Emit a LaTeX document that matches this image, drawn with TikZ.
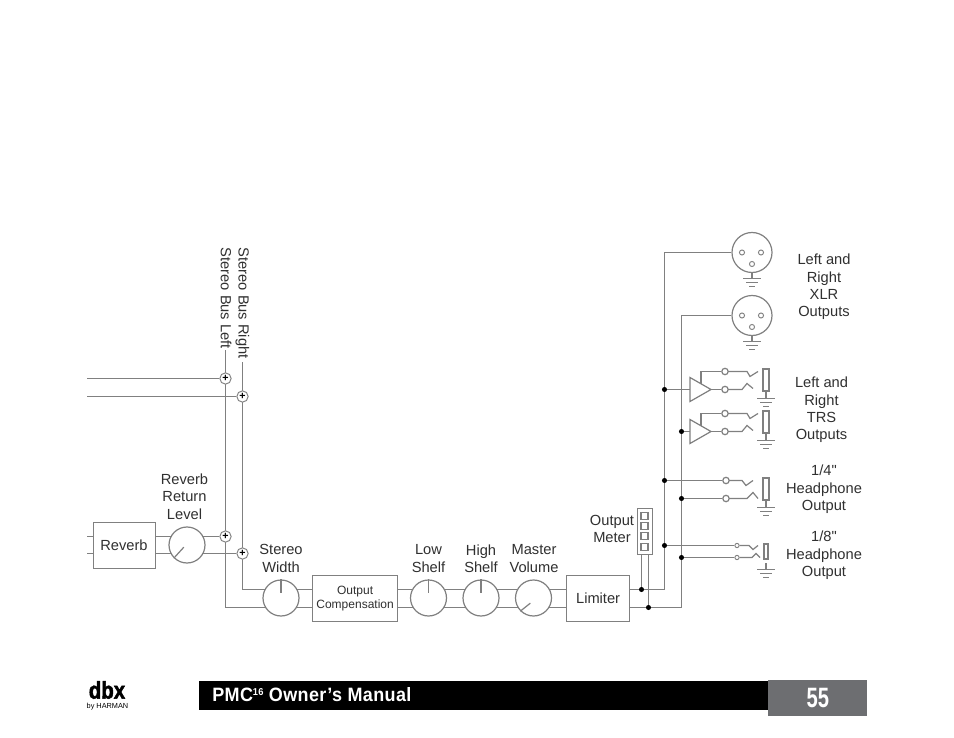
\documentclass[tikz,border=0pt]{standalone}
\usepackage{fontspec}
\usetikzlibrary{backgrounds}
\setmainfont{Liberation Sans}
\newfontfamily\barfont[FakeStretch=0.93,LetterSpace=2]{Liberation Sans Bold}
\newfontfamily\pagefont[FakeStretch=0.72]{Liberation Sans Bold}
\newfontfamily\logofont[FakeStretch=0.85,FakeBold=2]{Liberation Sans Bold}
\newfontfamily\plainfont{Liberation Sans}
\definecolor{wirecol}{HTML}{808080}
\definecolor{textcol}{HTML}{303030}
\definecolor{pagecol}{HTML}{6D6E71}
\tikzset{every picture/.style={line width=0.75pt}}
\tikzset{
  wire/.style={draw=wirecol,line width=0.9pt},
  lbl/.style={inner sep=0.75pt,align=center,text=textcol,font=\fontsize{11}{13.1}\selectfont},
  knob/.style={circle,draw=wirecol,line width=0.9pt,fill=white,minimum size=27pt,inner sep=0pt},
  boxnode/.style={rectangle,draw=wirecol,line width=0.9pt,fill=white,inner sep=0pt},
  sumnode/.style={circle,draw=wirecol,line width=0.7pt,fill=white,minimum size=8.5pt,inner sep=0pt,text=black,font=\fontsize{8}{8}\bfseries\selectfont},
  dotnode/.style={circle,fill=black,minimum size=3.8pt,inner sep=0pt},
  jacknode/.style={circle,draw=wirecol,line width=0.9pt,fill=white,minimum size=4.8pt,inner sep=0pt},
  smalljack/.style={circle,draw=wirecol,line width=0.7pt,fill=white,minimum size=3.2pt,inner sep=0pt},
  pinnode/.style={circle,draw=wirecol,line width=0.7pt,minimum size=3.8pt,inner sep=0pt},
  gnd/.pic={
    \draw [wire] (-9,0) -- (9,0) ;
    \draw [wire] (-6,4) -- (6,4) ;
    \draw [wire] (-3,8) -- (3,8) ;
  }
}

\begin{document}
\begin{tikzpicture}[x=0.75pt,y=0.75pt,yscale=-1,xscale=1]

\path [use as bounding box] (0,0) rectangle (954,738) ;

% left inputs and buses
\coordinate (inA) at (87,378.5) ;
\coordinate (inB) at (87,396.5) ;
\coordinate (busAtop) at (225.5,350) ;
\coordinate (busBtop) at (242.5,362) ;
\coordinate (revA) at (87,536.5) ;
\coordinate (revB) at (87,553.5) ;
\coordinate (levA) at (250,589.5) ;
\coordinate (levB) at (250,607.5) ;

\draw (93,522) node [boxnode,anchor=north west,minimum width=46.5pt,minimum height=34.5pt] (reverb) {} ;
\draw (124,545) node [lbl] (reverbtxt) {Reverb} ;
\draw (187,545) node [knob] (revknob) {} ;
\draw (281,598) node [knob] (stereo) {} ;
\draw (428.5,598) node [knob] (lowshelf) {} ;
\draw (481,598) node [knob] (highshelf) {} ;
\draw (533.5,598) node [knob] (master) {} ;
\draw (312,575) node [boxnode,anchor=north west,minimum width=63.75pt,minimum height=34.5pt] (comp) {} ;
\draw (566,575) node [boxnode,anchor=north west,minimum width=47.25pt,minimum height=34.5pt] (limiter) {} ;

\draw (225.5,378.5) node [sumnode] (sumA) {+} ;
\draw (242.5,396.5) node [sumnode] (sumB) {+} ;
\draw (225.5,536.5) node [sumnode] (sumC) {+} ;
\draw (242.5,553.5) node [sumnode] (sumD) {+} ;

\begin{pgfonlayer}{background}
\fill [white] (0,0) rectangle (954,738) ;
\draw [wire] (inA) -- (sumA) ;
\draw [wire] (inB) -- (sumB) ;
\draw [wire] (busAtop) -- (busAtop |- levB) -- (comp.west |- levB) ;
\draw [wire] (busBtop) -- (busBtop |- levA) -- (comp.west |- levA) ;
\draw [wire] (revA) -- (reverb.west |- revA) ;
\draw [wire] (revB) -- (reverb.west |- revB) ;
\draw [wire] (reverb.east |- revA) -- (sumC) ;
\draw [wire] (reverb.east |- revB) -- (sumD) ;
\draw [wire] (comp.east |- levA) -- (limiter.west |- levA) ;
\draw [wire] (comp.east |- levB) -- (limiter.west |- levB) ;
\end{pgfonlayer}

% knob pointers
\draw [wire] (revknob.225) -- ++(10,-11) ;
\draw [wire] (stereo.90) -- ++(0,14) ;
\draw [wire] (lowshelf.90) -- ++(0,14) ;
\draw [wire] (highshelf.90) -- ++(0,14) ;
\draw [wire] (master.225) -- ++(10,-8) ;

% output meter
\draw (637,508) node [boxnode,anchor=north west,minimum width=11.25pt,minimum height=34.5pt] (meter) {} ;
\draw (644.5,515.7) node [boxnode,minimum size=5.25pt] (ledA) {} ;
\draw (644.5,526) node [boxnode,minimum size=5.25pt] (ledB) {} ;
\draw (644.5,536.3) node [boxnode,minimum size=5.25pt] (ledC) {} ;
\draw (644.5,546.7) node [boxnode,minimum size=5.25pt] (ledD) {} ;
\draw (641.5,589.5) node [dotnode] (dotM1) {} ;
\draw (648.5,607.5) node [dotnode] (dotM2) {} ;
\draw [wire] (dotM1) -- (dotM1 |- meter.south) ;
\draw [wire] (dotM2) -- (dotM2 |- meter.south) ;

% output buses
\draw (752,252.5) node [knob,minimum size=30pt] (xlrA) {} ;
\draw (752,315.5) node [knob,minimum size=30pt] (xlrB) {} ;
\draw [wire] (limiter.east |- dotM1) -- (dotM1) -- (664.5,589.5) -- (664.5,252.5) -- (xlrA) ;
\draw [wire] (limiter.east |- dotM2) -- (dotM2) -- (681.5,607.5) -- (681.5,315.5) -- (xlrB) ;

% XLR
\draw (742,252.5) node [pinnode] (pinA1) {} ;
\draw (761,252.5) node [pinnode] (pinA2) {} ;
\draw (752,264) node [pinnode] (pinA3) {} ;
\draw (742,315.5) node [pinnode] (pinB1) {} ;
\draw (761,315.5) node [pinnode] (pinB2) {} ;
\draw (752,327) node [pinnode] (pinB3) {} ;
\draw [wire] (xlrA.south) -- ++(0,6) ;
\draw [wire] (xlrB.south) -- ++(0,6) ;
\draw (752,278.5) pic [transform shape] {gnd} ;
\draw (752,341.5) pic [transform shape] {gnd} ;

% TRS upper
\draw (664.5,389.5) node [dotnode] (dotT1) {} ;
\draw (725,389.5) node [jacknode] (jackT1b) {} ;
\draw (725,371.5) node [jacknode] (jackT1a) {} ;
\draw (766,380) node [boxnode,minimum width=4.5pt,minimum height=16.5pt] (sleeveT1) {} ;
\draw [wire] (dotT1) -- (690,389.5) ;
\draw [wire] (690,377.5) -- (711,389.5) -- (690,401.5) -- cycle ;
\draw [wire] (711,389.5) -- (jackT1b) ;
\draw [wire] (701,383.5) -- (701,371.5) -- (jackT1a) ;
\draw [wire] (jackT1a) -- (747,371.5) -- (750,376.5) -- (758,371.5) ;
\draw [wire] (jackT1b) -- (742,389.5) -- (747,383.5) -- (753,388.5) ;
\draw [wire] (sleeveT1) -- ++(0,18.5) ;
\draw (766,398.5) pic [transform shape] {gnd} ;

% TRS lower
\draw (681.5,431.5) node [dotnode] (dotT2) {} ;
\draw (725,431.5) node [jacknode] (jackT2b) {} ;
\draw (725,413.5) node [jacknode] (jackT2a) {} ;
\draw (766,422) node [boxnode,minimum width=4.5pt,minimum height=16.5pt] (sleeveT2) {} ;
\draw [wire] (dotT2) -- (690,431.5) ;
\draw [wire] (690,419.5) -- (711,431.5) -- (690,443.5) -- cycle ;
\draw [wire] (711,431.5) -- (jackT2b) ;
\draw [wire] (701,425.5) -- (701,413.5) -- (jackT2a) ;
\draw [wire] (jackT2a) -- (747,413.5) -- (750,418.5) -- (758,413.5) ;
\draw [wire] (jackT2b) -- (742,431.5) -- (747,425.5) -- (753,430.5) ;
\draw [wire] (sleeveT2) -- ++(0,18.5) ;
\draw (766,440.5) pic [transform shape] {gnd} ;

% 1/4 headphone
\draw (664.5,480.5) node [dotnode] (dotH1) {} ;
\draw (681.5,498.5) node [dotnode] (dotH2) {} ;
\draw (726,480.5) node [jacknode] (jackH1) {} ;
\draw (726,498.5) node [jacknode] (jackH2) {} ;
\draw (766,489) node [boxnode,minimum width=4.5pt,minimum height=16.5pt] (sleeveH) {} ;
\draw [wire] (dotH1) -- (jackH1) ;
\draw [wire] (dotH2) -- (jackH2) ;
\draw [wire] (jackH1) -- (742,480.5) -- (746,485.5) -- (753,480.5) ;
\draw [wire] (jackH2) -- (747,498.5) -- (753,492.5) -- (758,498.5) ;
\draw [wire] (sleeveH) -- ++(0,18.5) ;
\draw (766,507.5) pic [transform shape] {gnd} ;

% 1/8 headphone
\draw (664.5,545.5) node [dotnode] (dotS1) {} ;
\draw (681.5,557.5) node [dotnode] (dotS2) {} ;
\draw (737,545.5) node [smalljack] (jackS1) {} ;
\draw (737,557.5) node [smalljack] (jackS2) {} ;
\draw (766,551.5) node [boxnode,minimum width=3pt,minimum height=11.25pt] (sleeveS) {} ;
\draw [wire] (dotS1) -- (jackS1) ;
\draw [wire] (dotS2) -- (jackS2) ;
\draw [wire] (jackS1) -- (749,545.5) -- (753,549.5) -- (758,545.5) ;
\draw [wire] (jackS2) -- (752,557.5) -- (756,553.5) -- (760,557.5) ;
\draw [wire] (766,563) -- (766,569.5) ;
\draw (766,569.5) pic [transform shape] {gnd} ;

% labels
\draw (226,246.5) node [lbl,rotate=-90,anchor=west] (busLtxt) {Stereo Bus Left} ;
\draw (242.5,246.5) node [lbl,rotate=-90,anchor=west] (busRtxt) {Stereo Bus Right} ;
\draw (184.5,496.5) node [lbl] (levtxt) {Reverb\\Return\\Level} ;
\draw (281,558.5) node [lbl] (widthtxt) {Stereo\\Width} ;
\draw (428.5,558.5) node [lbl] (lowtxt) {Low\\Shelf} ;
\draw (481,558.5) node [lbl] (hightxt) {High\\Shelf} ;
\draw (534,558.5) node [lbl] (mastertxt) {Master\\Volume} ;
\draw (comp.center) node [lbl,font=\fontsize{9}{11}\selectfont] (comptxt) {Output\\Compensation} ;
\draw (limiter.center) node [lbl] (limtxt) {Limiter} ;
\draw (612,529) node [lbl] (metertxt) {Output\\Meter} ;
\draw (824,287) node [lbl] (xlrtxt) {Left and\\Right\\XLR\\Outputs} ;
\draw (821.5,410) node [lbl] (trstxt) {Left and\\Right\\TRS\\Outputs} ;
\draw (824,489.5) node [lbl] (hqtxt) {1/4{\plainfont"}\\Headphone\\Output} ;
\draw (824,555.5) node [lbl] (hetxt) {1/8{\plainfont"}\\Headphone\\Output} ;

% footer
\draw (199,681) node [anchor=north west,fill=black,minimum width=426.75pt,minimum height=21.75pt,inner sep=0pt] (footbar) {} ;
\draw (768,680) node [anchor=north west,fill=pagecol,minimum width=74.25pt,minimum height=27pt,inner sep=0pt] (pagebox) {} ;
\draw (212,695) node [anchor=west,inner sep=0pt,text=white] (foottxt) {\barfont\fontsize{14.5}{14.5}\selectfont PMC\raisebox{4.5pt}{\fontsize{7.5}{7.5}\selectfont 16} Owner’s Manual} ;
\draw (pagebox.center) node [text=white,inner sep=0pt] (pagetxt) {\pagefont\fontsize{21}{21}\selectfont 55} ;
\draw (107,690) node [inner sep=0pt] (logotxt) {\logofont\fontsize{18}{18}\selectfont dbx} ;
\draw (107.5,707) node [inner sep=0pt] (bytxt) {\fontsize{5.5}{6}\selectfont by HARMAN} ;

\end{tikzpicture}
\end{document}
